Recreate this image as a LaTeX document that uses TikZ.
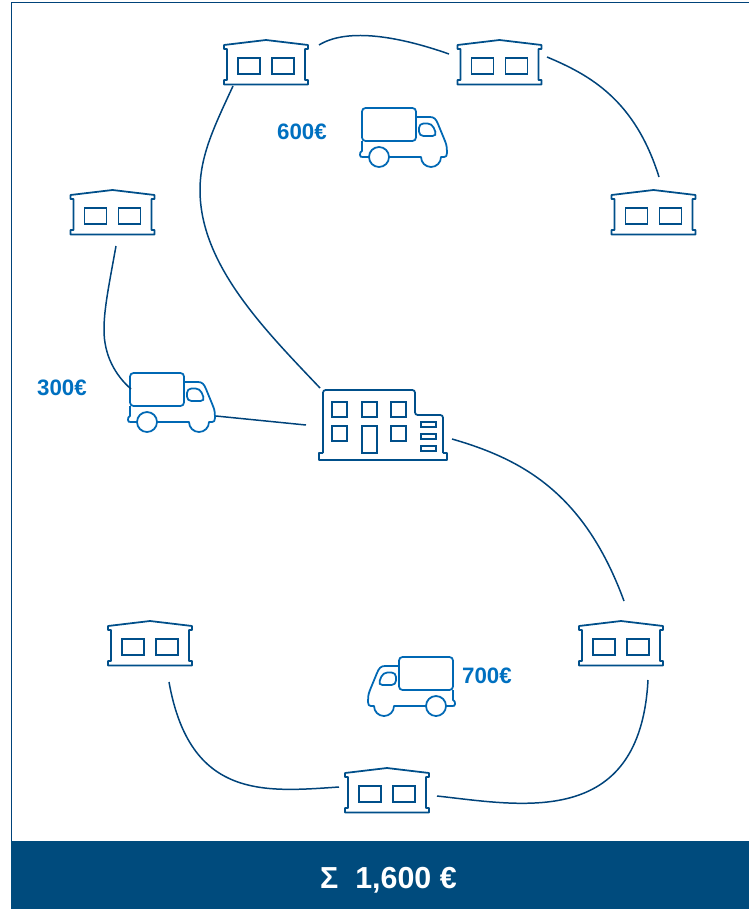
\documentclass[tikz,border=0pt]{standalone}
\usepackage{xcolor}
\usepackage{fontspec}
\setmainfont{Liberation Sans}
\usepackage{tikz}
\usetikzlibrary{positioning}
\definecolor{routeBlue}{HTML}{00437A}
\definecolor{iconBlue}{HTML}{004F8A}
\definecolor{truckBlue}{HTML}{0068B4}
\definecolor{costBlue}{HTML}{0070C0}
\definecolor{bandBlue}{HTML}{004B7D}

\begin{document}
\begin{tikzpicture}[
    x=0.02cm, y=-0.02cm,
    depot/.style={rectangle, minimum width=1.68cm, minimum height=0.9cm, inner sep=0pt},
    office/.style={rectangle, minimum width=2.56cm, minimum height=1.4cm, inner sep=0pt},
    truck/.style={rectangle, minimum width=1.74cm, minimum height=1.2cm, inner sep=0pt},
    route/.style={draw=routeBlue, line width=0.85pt},
    cost/.style={font=\fontsize{12.7}{14}\selectfont\bfseries, text=costBlue, inner sep=0pt},
    pics/depot icon/.style={code={
        \draw[iconBlue, line width=1pt, line join=round]
            (-42,-13) -- (-42,-17) -- (0,-22) -- (42,-17) -- (42,-13) -- (39,-13) -- (39,18)
            -- (42,18) -- (42,22.5) -- (-42,22.5) -- (-42,18) -- (-39,18) -- (-39,-13) -- cycle;
        \draw[iconBlue, line width=1pt] (-28,-4) rectangle (-6,12);
        \draw[iconBlue, line width=1pt] (6,-4) rectangle (28,12);
    }},
    pics/office icon/.style={code={
        \begin{scope}[shift={(-64,-35)}, iconBlue, line width=1pt]
            \draw[line join=round, rounded corners=1.5pt]
                (4,63) -- (4,0) -- (96,0) -- (96,25) -- (124,25) -- (124,63);
            \draw[line join=round] (4,63) -- (0,63) -- (0,70) -- (128,70) -- (128,63) -- (124,63);
            % upper windows
            \foreach \winX in {13,43,72} {
                \draw (\winX,12) rectangle ++(15,15);
            }
            \draw (13,36) rectangle ++(15,15);
            \draw (72,36) rectangle ++(15,15);
            % door
            \draw (43,36) rectangle (58,63);
            % small windows
            \foreach \winY in {32,44,56} {
                \draw (102,\winY) rectangle ++(15,5);
            }
        \end{scope}
    }},
    pics/truck icon/.style={code={
        \begin{scope}[shift={(-42,-25)}, truckBlue, line width=1pt]
            \draw[rounded corners=2pt] (0,0) rectangle (54,33);
            \draw[line join=round] (54,9) -- (68,9) .. controls (72,9) and (74,11) .. (76,16)
                -- (83,33) .. controls (85,38) and (85,41) .. (85,45)
                .. controls (85,48) and (84,49) .. (82,49) -- (79,49)
                arc[start angle=0, end angle=180, radius=10] -- (27,49);
            \draw (17,49) circle[radius=10];
            \draw[line join=round] (0,33) -- (0,43) .. controls (-2,44) and (-2,45) .. (-2,47)
                .. controls (-2,49) and (-1,49) .. (1,49) -- (7,49);
            \draw[rounded corners=2.5pt] (57,15.5) -- (70,15.5) -- (75,28) -- (57,28) -- cycle;
        \end{scope}
    }}
]
    \useasboundingbox (0,0) rectangle (749,909);

    % Frame and total
    \draw[routeBlue, line width=0.5pt] (11,841) -- (11,2) -- (749,2);
    \fill[bandBlue] (11,841) rectangle (749,909);
    \node[font=\fontsize{17.3}{20}\selectfont\bfseries, text=white, inner sep=0pt] (total) at (388.5,880) {Σ\ \ 1,600 €};

    % Depots
    \node[depot] (depotA) at (266,62) {};
    \node[depot] (depotB) at (499.5,62) {};
    \node[depot] (depotC) at (653.5,212) {};
    \node[depot] (depotD) at (112.5,212) {};
    \node[depot] (depotE) at (150,643) {};
    \node[depot] (depotF) at (621,643) {};
    \node[depot] (depotG) at (387,790) {};
    \foreach \depotName in {depotA,depotB,depotC,depotD,depotE,depotF,depotG} {
        \pic at (\depotName) {depot icon};
    }

    % Head office
    \node[office] (hq) at (383,425) {};
    \pic at (hq) {office icon};

    % Trucks and costs
    \node[truck] (truckA) at (404,133) {};
    \node[truck] (truckB) at (172,398) {};
    \node[truck] (truckC) at (411,682) {};
    \pic at (truckA) {truck icon};
    \pic at (truckB) {truck icon};
    \pic[xscale=-1] at (truckC) {truck icon};

    \node[cost] (costA) at (302,131.5) {600€};
    \node[cost] (costB) at (62,387.5) {300€};
    \node[cost] (costC) at (487,675.5) {700€};

    % Upper tour
    \draw[route] ([shift={(-33,24)}]depotA.center) .. controls (215,125) and (200,155) .. (200,190)
        .. controls (200,265) and (265,330) .. ([shift={(-63,-37)}]hq.center);
    \draw[route] ([shift={(53,-17)}]depotA.center) .. controls (345,29) and (392,34) .. ([shift={(-50.5,-8)}]depotB.center);
    \draw[route] ([shift={(47.5,-5)}]depotB.center) .. controls (590,75) and (635,100) .. ([shift={(5.5,-35)}]depotC.center);

    % Left tour
    \draw[route] ([shift={(3.5,34)}]depotD.center) .. controls (108,290) and (104,310) .. (104,330)
        .. controls (104,355) and (115,375) .. ([shift={(-41,-9)}]truckB.center);
    \draw[route] ([shift={(44,18)}]truckB.center) -- ([shift={(-77,0)}]hq.center);

    % Lower tour
    \draw[route] ([shift={(69,14)}]hq.center) .. controls (525,460) and (585,495) .. ([shift={(3,-42)}]depotF.center);
    \draw[route] ([shift={(27,37)}]depotF.center) .. controls (640,830) and (520,805) .. ([shift={(50,6)}]depotG.center);
    \draw[route] ([shift={(-48,-3)}]depotG.center) .. controls (265,792) and (190,800) .. ([shift={(19,39)}]depotE.center);
\end{tikzpicture}
\end{document}
